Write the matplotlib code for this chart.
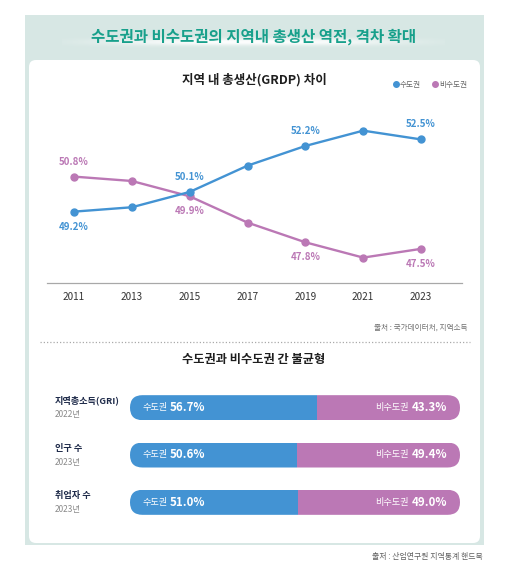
import numpy as np
import matplotlib
matplotlib.use("Agg")
import matplotlib.pyplot as plt
from matplotlib.patches import FancyBboxPatch, Rectangle
from matplotlib.lines import Line2D
import matplotlib.transforms as mtransforms

plt.rcParams['font.family'] = ['Noto Sans CJK KR', 'DejaVu Sans']

# ---------------- data ----------------
main_title = '수도권과 비수도권의 지역내 총생산 역전, 격차 확대'
line_title = '지역 내 총생산(GRDP) 차이'
bar_title = '수도권과 비수도권 간 불균형'
series_names = ['수도권', '비수도권']

years = [2011, 2013, 2015, 2017, 2019, 2021, 2023]
capital_share = [49.2, 49.4, 50.1, 51.3, 52.2, 52.9, 52.5]
noncapital_share = [50.8, 50.6, 49.9, 48.7, 47.8, 47.1, 47.5]
labeled_years = [2011, 2015, 2019, 2023]

bar_categories = ['지역총소득(GRI)', '인구 수', '취업자 수']
bar_years = ['2022년', '2023년', '2023년']
bar_capital = [56.7, 50.6, 51.0]
bar_noncapital = [43.3, 49.4, 49.0]

source_line = '출처 : 국가데이터처, 지역소득'
source_bar = '출처 : 산업연구원 지역통계 핸드북'

# ---------------- style ----------------
W, H = 512, 576
BLUE = '#4393d3'
PURPLE = '#bb78b5'
PANEL = '#d7e7e4'
TEAL = '#17a08b'
NAVY = '#1f2b4a'

fig = plt.figure(figsize=(W / 100, H / 100), dpi=100)
fig.patch.set_facecolor('white')

# background / decoration axes in pixel coordinates
ax_bg = fig.add_axes([0, 0, 1, 1], zorder=0)
ax_bg.set_xlim(0, W)
ax_bg.set_ylim(H, 0)
ax_bg.axis('off')

ax_bg.add_patch(Rectangle((25, 15), 459, 530, facecolor=PANEL, edgecolor='none'))

# glow behind title
gx = np.linspace(-1, 1, 400)
gy = np.linspace(-1, 1, 60)
GX, GY = np.meshgrid(gx, gy)
alpha = 0.95 * np.exp(-(np.abs(GX) / 0.75) ** 3) * np.exp(-(GY / 0.3) ** 2)
rgba = np.ones((60, 400, 4))
rgba[..., 3] = alpha
ax_bg.imshow(rgba, extent=(62, 445, 54, 30), aspect='auto', zorder=1, interpolation='bilinear')
ax_bg.set_xlim(0, W)
ax_bg.set_ylim(H, 0)

ax_bg.add_patch(FancyBboxPatch((29, 60), 451, 483,
                               boxstyle='round,pad=0,rounding_size=7',
                               facecolor='white', edgecolor='none', zorder=2))

ax_bg.text(254, 37, main_title, ha='center', va='center', fontsize=11.2,
           fontweight='bold', color=TEAL, zorder=3)
ax_bg.text(254, 80, line_title, ha='center', va='center', fontsize=9,
           fontweight='bold', color='#1e1e1e', zorder=3)
ax_bg.text(468, 328, source_line, ha='right', va='center', fontsize=5.5,
           color='#707070', zorder=3)
ax_bg.plot([40, 470], [342, 342], ls=(0, (1, 1.6)), color='#aaaaaa', lw=0.9, zorder=3)
ax_bg.text(254, 360, bar_title, ha='center', va='center', fontsize=8.8,
           fontweight='bold', color='#1e1e1e', zorder=3)
ax_bg.text(483, 556, source_bar, ha='right', va='center', fontsize=5.7,
           color='#606060', zorder=3)

# ---------------- line chart ----------------
ax = fig.add_axes([47 / W, 1 - 283 / H, (462 - 47) / W, (283 - 100) / H], zorder=5)
ax.patch.set_alpha(0)
px_year = (421 - 74) / 12
ax.set_xlim(2011 - (74 - 47) / px_year, 2023 + (462 - 421) / px_year)
ax.set_ylim(45.94, 54.3)
for s in ['top', 'right', 'left']:
    ax.spines[s].set_visible(False)
ax.spines['bottom'].set_color('#a8a8a8')
ax.spines['bottom'].set_linewidth(0.9)
ax.set_yticks([])
ax.set_xticks(years)
ax.set_xticklabels([str(y) for y in years])
ax.tick_params(axis='x', length=0, pad=6.5, labelsize=7.2, labelcolor='#333333')

ax.plot(years, capital_share, color=BLUE, lw=1.7, marker='o', ms=5, zorder=3)
ax.plot(years, noncapital_share, color=PURPLE, lw=1.7, marker='o', ms=5, zorder=2)

for y, c, n in zip(years, capital_share, noncapital_share):
    if y not in labeled_years:
        continue
    c_dir = -1 if y == 2011 else 1
    n_dir = 1 if y == 2011 else -1
    ax.annotate(f'{c}%', (y, c), xytext=(0, 15 * c_dir), textcoords='offset pixels',
                ha='center', va='center', fontsize=7, fontweight='bold', color=BLUE)
    ax.annotate(f'{n}%', (y, n), xytext=(0, 15 * n_dir), textcoords='offset pixels',
                ha='center', va='center', fontsize=7, fontweight='bold', color=PURPLE)

handles = [Line2D([], [], marker='o', ls='', color=BLUE, ms=4),
           Line2D([], [], marker='o', ls='', color=PURPLE, ms=4)]
fig.legend(handles, series_names, loc='center right',
           bbox_to_anchor=(470 / W, 1 - 85 / H), ncol=2, frameon=False,
           fontsize=5.5, labelcolor='#666666', handletextpad=0.05,
           columnspacing=1.3, handlelength=1.0, borderaxespad=0)

# ---------------- bar chart ----------------
bx0, bx1 = 130, 460
by0, by1 = 384, 526
ax_b = fig.add_axes([bx0 / W, 1 - by1 / H, (bx1 - bx0) / W, (by1 - by0) / H], zorder=5)
ax_b.patch.set_alpha(0)
ax_b.set_xlim(0, 100)
ax_b.set_ylim(len(bar_categories) - 0.5, -0.5)
ax_b.axis('off')

px_x = (bx1 - bx0) / 100
px_y = (by1 - by0) / len(bar_categories)
bar_h_px = 25
bh = bar_h_px / px_y
r_px = bar_h_px / 2
rows = np.arange(len(bar_categories))

b1 = ax_b.barh(rows, bar_capital, height=bh, color=BLUE, lw=0)
b2 = ax_b.barh(rows, bar_noncapital, left=bar_capital, height=bh, color=PURPLE, lw=0)

for i in rows:
    total = bar_capital[i] + bar_noncapital[i]
    clip = FancyBboxPatch((0, i - bh / 2), total, bh,
                          boxstyle=f'round,pad=0,rounding_size={r_px / px_x}',
                          mutation_aspect=(1 / px_y) / (1 / px_x),
                          facecolor='none', edgecolor='none', lw=0)
    ax_b.add_patch(clip)
    b1[i].set_clip_path(clip)
    b2[i].set_clip_path(clip)

fig.canvas.draw()
renderer = fig.canvas.get_renderer()

for i in rows:
    # left (capital)
    t1 = ax_b.annotate(series_names[0], (0, i), xytext=(12.5, 0), textcoords='offset pixels',
                       ha='left', va='center', fontsize=6.6, color='white')
    w1 = t1.get_window_extent(renderer).width
    ax_b.annotate(f'{bar_capital[i]:.1f}%', (0, i), xytext=(12.5 + w1 + 2.5, 0),
                  textcoords='offset pixels', ha='left', va='center',
                  fontsize=8.3, fontweight='bold', color='white')
    # right (non-capital)
    end = bar_capital[i] + bar_noncapital[i]
    t2 = ax_b.annotate(f'{bar_noncapital[i]:.1f}%', (end, i), xytext=(-13, 0),
                       textcoords='offset pixels', ha='right', va='center',
                       fontsize=8.3, fontweight='bold', color='white')
    w2 = t2.get_window_extent(renderer).width
    ax_b.annotate(series_names[1], (end, i), xytext=(-13 - w2 - 2.5, 0),
                  textcoords='offset pixels', ha='right', va='center',
                  fontsize=6.6, color='white')

# row labels: x in pixel coords, y in bar data coords
trans = mtransforms.blended_transform_factory(ax_bg.transData, ax_b.transData)
for i in rows:
    ax_bg.annotate(bar_categories[i], (55, i), xycoords=trans, xytext=(0, 7),
                   textcoords='offset pixels', ha='left', va='center',
                   fontsize=6.6, fontweight='bold', color=NAVY, zorder=6)
    ax_bg.annotate(bar_years[i], (55, i), xycoords=trans, xytext=(0, -7),
                   textcoords='offset pixels', ha='left', va='center',
                   fontsize=6, color='#8a8a8a', zorder=6)

fig.savefig('out.png', dpi=100, facecolor='white')
